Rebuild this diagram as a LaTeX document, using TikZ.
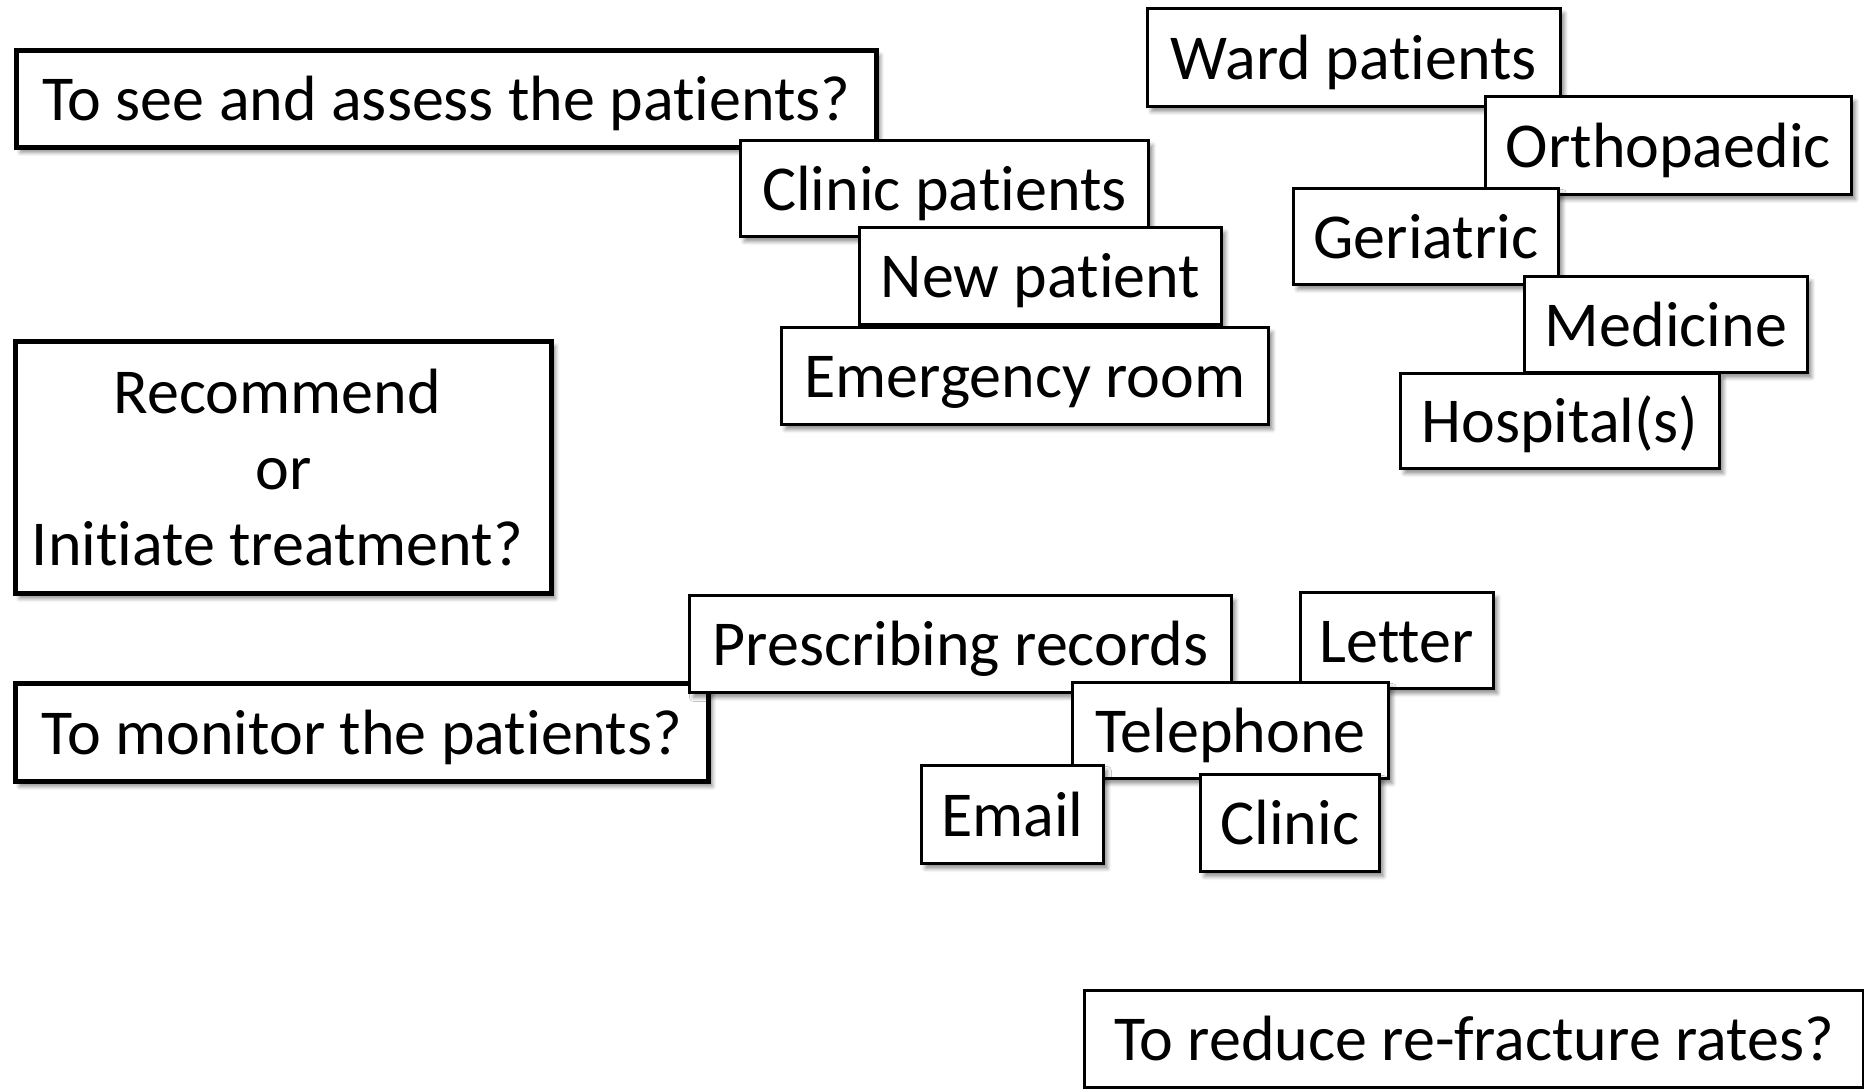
\documentclass[tikz,border=0pt]{standalone}
\usepackage{fontspec}
\setmainfont{Carlito}[Ligatures={NoCommon}]
\usetikzlibrary{shadows.blur}
\begin{document}
\begin{tikzpicture}[x=0.5pt,y=-0.5pt,
  every node/.style={font=\fontsize{32pt}{38pt}\selectfont, inner sep=0pt, anchor=north west},
  softshadow/.style={blur shadow={shadow xshift=2pt, shadow yshift=-2.5pt,
      shadow blur radius=2pt, shadow blur steps=6, shadow opacity=45}},
  oneline/.style={text height=25pt, text depth=3pt},
  qbox/.style={draw=black, line width=2.4pt, fill=white, softshadow},
  question/.style={qbox, oneline},
  option/.style={draw=black, line width=1.4pt, fill=white, softshadow, oneline},
  goal/.style={draw=black, line width=1.4pt, fill=white, oneline}]
  \useasboundingbox (0,0) rectangle (1864,1088);

  % assessment settings
  \node[question, minimum width=430pt, minimum height=48.5pt] (tosee) at (14,48) {To see and assess the patients?};
  \node[option, minimum width=204pt, minimum height=48pt] (clinicpat) at (739,139) {Clinic patients};
  \node[option, minimum width=181pt, minimum height=48.5pt] (newpat) at (858,226) {New patient};
  \node[option, minimum width=243.5pt, minimum height=48.5pt] (emerg) at (780,326) {Emergency room};

  % ward patients and specialties
  \node[option, minimum width=206.5pt, minimum height=49pt] (ward) at (1146,7) {Ward patients};
  \node[option, minimum width=183pt, minimum height=49pt] (ortho) at (1484,95) {Orthopaedic};
  \node[option, minimum width=132.5pt, minimum height=48pt] (geri) at (1292,187) {Geriatric};
  \node[option, minimum width=141.5pt, minimum height=48pt] (medicine) at (1523,275) {Medicine};
  \node[option, minimum width=159.5pt, minimum height=47.5pt] (hosp) at (1399,372) {Hospital(s)};

  % treatment (text block sits a little left of the box centre)
  \node[qbox, minimum width=268pt, minimum height=126pt, align=center] (recommend) at (13,339)
    {Recommend\hspace*{6pt}\\or\hspace*{6pt}\\Initiate treatment?\hspace*{6pt}};

  % monitoring channels
  \node[question, minimum width=346.5pt, minimum height=49pt] (monitor) at (13,681) {To monitor the patients?};
  \node[option, minimum width=271pt, minimum height=48.5pt] (prescr) at (688,594) {Prescribing records};
  \node[option, minimum width=96.5pt, minimum height=48pt] (letter) at (1299,591) {Letter};
  \node[option, minimum width=158pt, minimum height=48pt] (tel) at (1071,681) {Telephone};
  \node[option, minimum width=91pt, minimum height=49pt] (email) at (920,764) {Email};
  \node[option, minimum width=89.5pt, minimum height=48.5pt] (clinic) at (1199,773) {Clinic};

  % outcome
  \node[goal, minimum width=389.5pt, minimum height=48.5pt] (reduce) at (1083,989) {To reduce re-fracture rates?};
\end{tikzpicture}
\end{document}
